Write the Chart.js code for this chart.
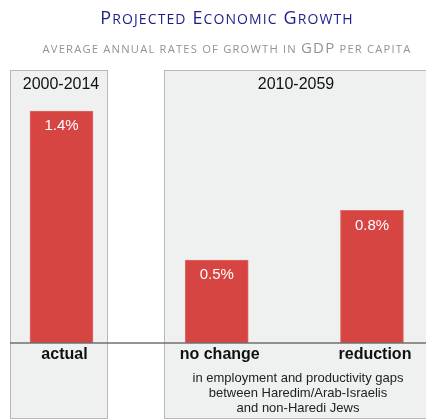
<!DOCTYPE html>
<html>
<head>
<meta charset="utf-8">
<script src="https://cdn.jsdelivr.net/npm/chart.js@4"></script>
<style>
  body { margin: 0; background: #fff; }
  #wrap { position: relative; width: 426px; height: 419px; }
  #chart { position: absolute; left: 0; top: 0; }
  .title { position: absolute; left: 0; width: 454px; text-align: center; line-height: 1;
           font-family: "Open Sans", sans-serif; white-space: nowrap; }
  #t1 { top: 8px; font-size: 18px; letter-spacing: 1.1px; color: #1e1e88; }
  #t1 span { font-size: 14px; }
  #t2 { top: 40px; font-size: 15px; letter-spacing: 1.2px; color: #939393; }
  #t2 span { font-size: 11.2px; }
</style>
</head>
<body>
<div id="wrap">
  <canvas id="chart" width="426" height="419"></canvas>
  <div class="title" id="t1">P<span>ROJECTED</span> E<span>CONOMIC</span> G<span>ROWTH</span></div>
  <div class="title" id="t2"><span>AVERAGE ANNUAL RATES OF GROWTH IN </span>GDP<span> PER CAPITA</span></div>
</div>
<script>
var categories = ['actual', 'no change', 'reduction'];
var growth = [1.4, 0.5, 0.8];
var periods = ['2000-2014', '2010-2059'];
var note = ['in employment and productivity gaps', 'between Haredim/Arab-Israelis', 'and non-Haredi Jews'];

var FONT = '"Liberation Sans", Arial, sans-serif';

var panelsPlugin = {
    id: 'panels',
    beforeDraw: function(chart) {
        var ctx = chart.ctx;
        ctx.save();
        ctx.fillStyle = '#eff0f0';
        ctx.strokeStyle = '#b8b8b8';
        ctx.lineWidth = 1;
        ctx.fillRect(10, 70, 97, 348);
        ctx.strokeRect(10.5, 70.5, 97, 348);
        ctx.fillRect(164, 70, 270, 348);
        ctx.strokeRect(164.5, 70.5, 270, 348);
        ctx.fillStyle = '#111';
        ctx.font = '16px ' + FONT;
        ctx.textAlign = 'center';
        ctx.textBaseline = 'middle';
        ctx.fillText(periods[0], 61, 85);
        ctx.fillText(periods[1], 296, 85);
        ctx.fillStyle = '#222';
        ctx.font = '13px ' + FONT;
        ctx.fillText(note[0], 298, 378);
        ctx.fillText(note[1], 298, 393);
        ctx.fillText(note[2], 298, 408);
        ctx.restore();
    },
    afterDatasetsDraw: function(chart) {
        var ctx = chart.ctx;
        var y = chart.scales.y.getPixelForValue(0);
        ctx.save();
        ctx.strokeStyle = '#707070';
        ctx.lineWidth = 1.5;
        ctx.beginPath();
        ctx.moveTo(10, y);
        ctx.lineTo(426, y);
        ctx.stroke();
        ctx.fillStyle = '#fff';
        ctx.font = '15px ' + FONT;
        ctx.textAlign = 'center';
        ctx.textBaseline = 'middle';
        chart.getDatasetMeta(0).data.forEach(function(bar, i) {
            ctx.fillText(growth[i].toFixed(1) + '%', bar.x, bar.y + 15);
        });
        ctx.restore();
    }
};

new Chart(document.getElementById('chart'), {
    type: 'bar',
    data: {
        datasets: [{
            data: growth.map(function(v, i) { return { x: i, y: v }; }),
            backgroundColor: '#d64541',
            borderColor: '#de6a66',
            borderWidth: 1,
            barThickness: 63
        }]
    },
    options: {
        responsive: false,
        devicePixelRatio: 1,
        animation: false,
        layout: { padding: { top: 11.6, left: 0, right: 0, bottom: 0 } },
        plugins: { legend: { display: false }, tooltip: { enabled: false } },
        scales: {
            x: {
                type: 'linear',
                min: -0.396,
                max: 2.348,
                offset: false,
                grid: { display: false, drawTicks: false },
                border: { display: false },
                afterBuildTicks: function(axis) {
                    axis.ticks = categories.map(function(c, i) { return { value: i }; });
                },
                afterFit: function(axis) { axis.height = 76; },
                ticks: {
                    autoSkip: false,
                    maxRotation: 0,
                    padding: 2,
                    labelOffset: 3,
                    color: '#111',
                    font: { family: FONT, size: 16, weight: 'bold' },
                    callback: function(v) { return categories[v]; }
                }
            },
            y: {
                display: false,
                min: 0,
                max: 2
            }
        }
    },
    plugins: [panelsPlugin]
});
</script>
</body>
</html>
